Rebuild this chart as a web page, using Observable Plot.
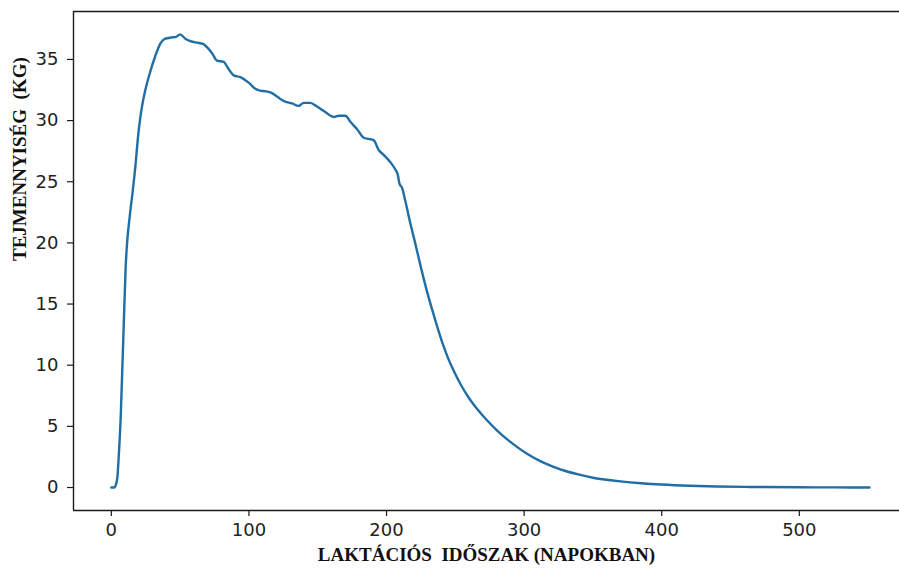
<!DOCTYPE html>
<html>
<head>
<meta charset="utf-8">
<script src="https://cdn.jsdelivr.net/npm/d3@7"></script>
<script src="https://cdn.jsdelivr.net/npm/@observablehq/plot@0.6"></script>
<style>
  html, body { margin: 0; padding: 0; background: #fff; overflow: hidden; }
</style>
</head>
<body>
<div id="chart"></div>
<script>
const days = [0, 2, 3.5, 4.4, 5.6, 6.8, 8, 9.2, 10.4, 11.6, 13.5, 15.5, 17.5, 19.5, 21, 22.5, 24.7, 28.3, 32, 35.6, 39.2, 44, 47, 50, 53.8, 57.4, 63.4, 67, 69.5, 73.2, 76.8, 81.6, 85.3, 88.9, 93.8, 99.8, 104.7, 108, 111.9, 115.6, 120.4, 125.2, 131.3, 136.1, 139.8, 144.6, 149.5, 155.5, 161.6, 165.2, 170.1, 173.7, 178.6, 183.4, 187, 190.6, 194.3, 197.9, 202.8, 206.4, 208.1, 209.5, 211.3, 213.7, 217.3, 221, 225, 229, 233, 237, 241, 245, 249, 254, 260, 266, 273, 280, 287, 295, 303, 311, 320, 330, 340, 350, 360, 370, 385, 400, 420, 440, 464, 500, 525, 551];
const yieldKg = [0, 0, 0.3, 0.84, 3.0, 5.75, 9.8, 13.9, 18.0, 20.2, 22.3, 24.2, 26.3, 28.8, 30.2, 31.3, 32.5, 34.0, 35.3, 36.3, 36.7, 36.8, 36.85, 37.05, 36.7, 36.5, 36.35, 36.25, 36.0, 35.5, 34.9, 34.8, 34.2, 33.7, 33.55, 33.1, 32.6, 32.45, 32.4, 32.3, 31.97, 31.6, 31.4, 31.2, 31.45, 31.45, 31.15, 30.7, 30.3, 30.4, 30.4, 29.9, 29.3, 28.6, 28.5, 28.4, 27.6, 27.2, 26.6, 26.0, 25.6, 24.8, 24.5, 23.4, 21.6, 19.9, 18.0, 16.2, 14.6, 13.1, 11.7, 10.5, 9.5, 8.4, 7.3, 6.4, 5.5, 4.7, 4.0, 3.3, 2.7, 2.2, 1.75, 1.35, 1.05, 0.8, 0.63, 0.5, 0.35, 0.24, 0.14, 0.08, 0.045, 0.02, 0.01, 0.0];
const xTicks = [0, 100, 200, 300, 400, 500];
const yTicks = [0, 5, 10, 15, 20, 25, 30, 35];
const xDomain = [-27.5, 572.8];
const yDomain = [-1.88, 38.92];
const xLabel = "LAKTÁCIÓS\u00a0 IDŐSZAK (NAPOKBAN)";
const yLabel = "TEJMENNYISÉG\u00a0 (KG)";

const data = days.map((d, i) => ({day: d, kg: yieldKg[i]}));

const serif = "'Liberation Serif', 'Times New Roman', serif";
const frameColor = "#1a1a1a";

const chart = Plot.plot({
  width: 899,
  height: 572,
  marginLeft: 73,
  marginRight: 0,
  marginTop: 11,
  marginBottom: 62,
  style: {fontFamily: "'DejaVu Sans', sans-serif", fontSize: "18px", color: "#222", background: "#fff"},
  x: {domain: xDomain, ticks: xTicks, label: null},
  y: {domain: yDomain, ticks: yTicks, label: null},
  marks: [
    Plot.axisX({ticks: xTicks, tickSize: 6, tickPadding: 7, label: null, fontSize: 18, stroke: frameColor, strokeWidth: 1.2}),
    Plot.axisY({ticks: yTicks, tickSize: 6, tickPadding: 9, label: null, fontSize: 18, stroke: frameColor, strokeWidth: 1.2}),
    Plot.ruleY([yDomain[1]], {stroke: frameColor, strokeWidth: 1.4}),
    Plot.ruleY([yDomain[0]], {stroke: frameColor, strokeWidth: 1.4}),
    Plot.ruleX([xDomain[0]], {stroke: frameColor, strokeWidth: 1.4}),
    Plot.line(data, {x: "day", y: "kg", curve: "monotone-x", stroke: "#1f6ea6", strokeWidth: 2.4, strokeLinejoin: "round", strokeLinecap: "round"}),
    Plot.text([xLabel], {frameAnchor: "bottom", dy: 50, text: d => d, fontFamily: serif, fontWeight: "bold", fontSize: 19, fill: "#111"}),
    Plot.text([yLabel], {frameAnchor: "left", dx: -54, rotate: -90, text: d => d, fontFamily: serif, fontWeight: "bold", fontSize: 19, fill: "#111"})
  ]
});
document.getElementById("chart").appendChild(chart);
</script>
</body>
</html>
